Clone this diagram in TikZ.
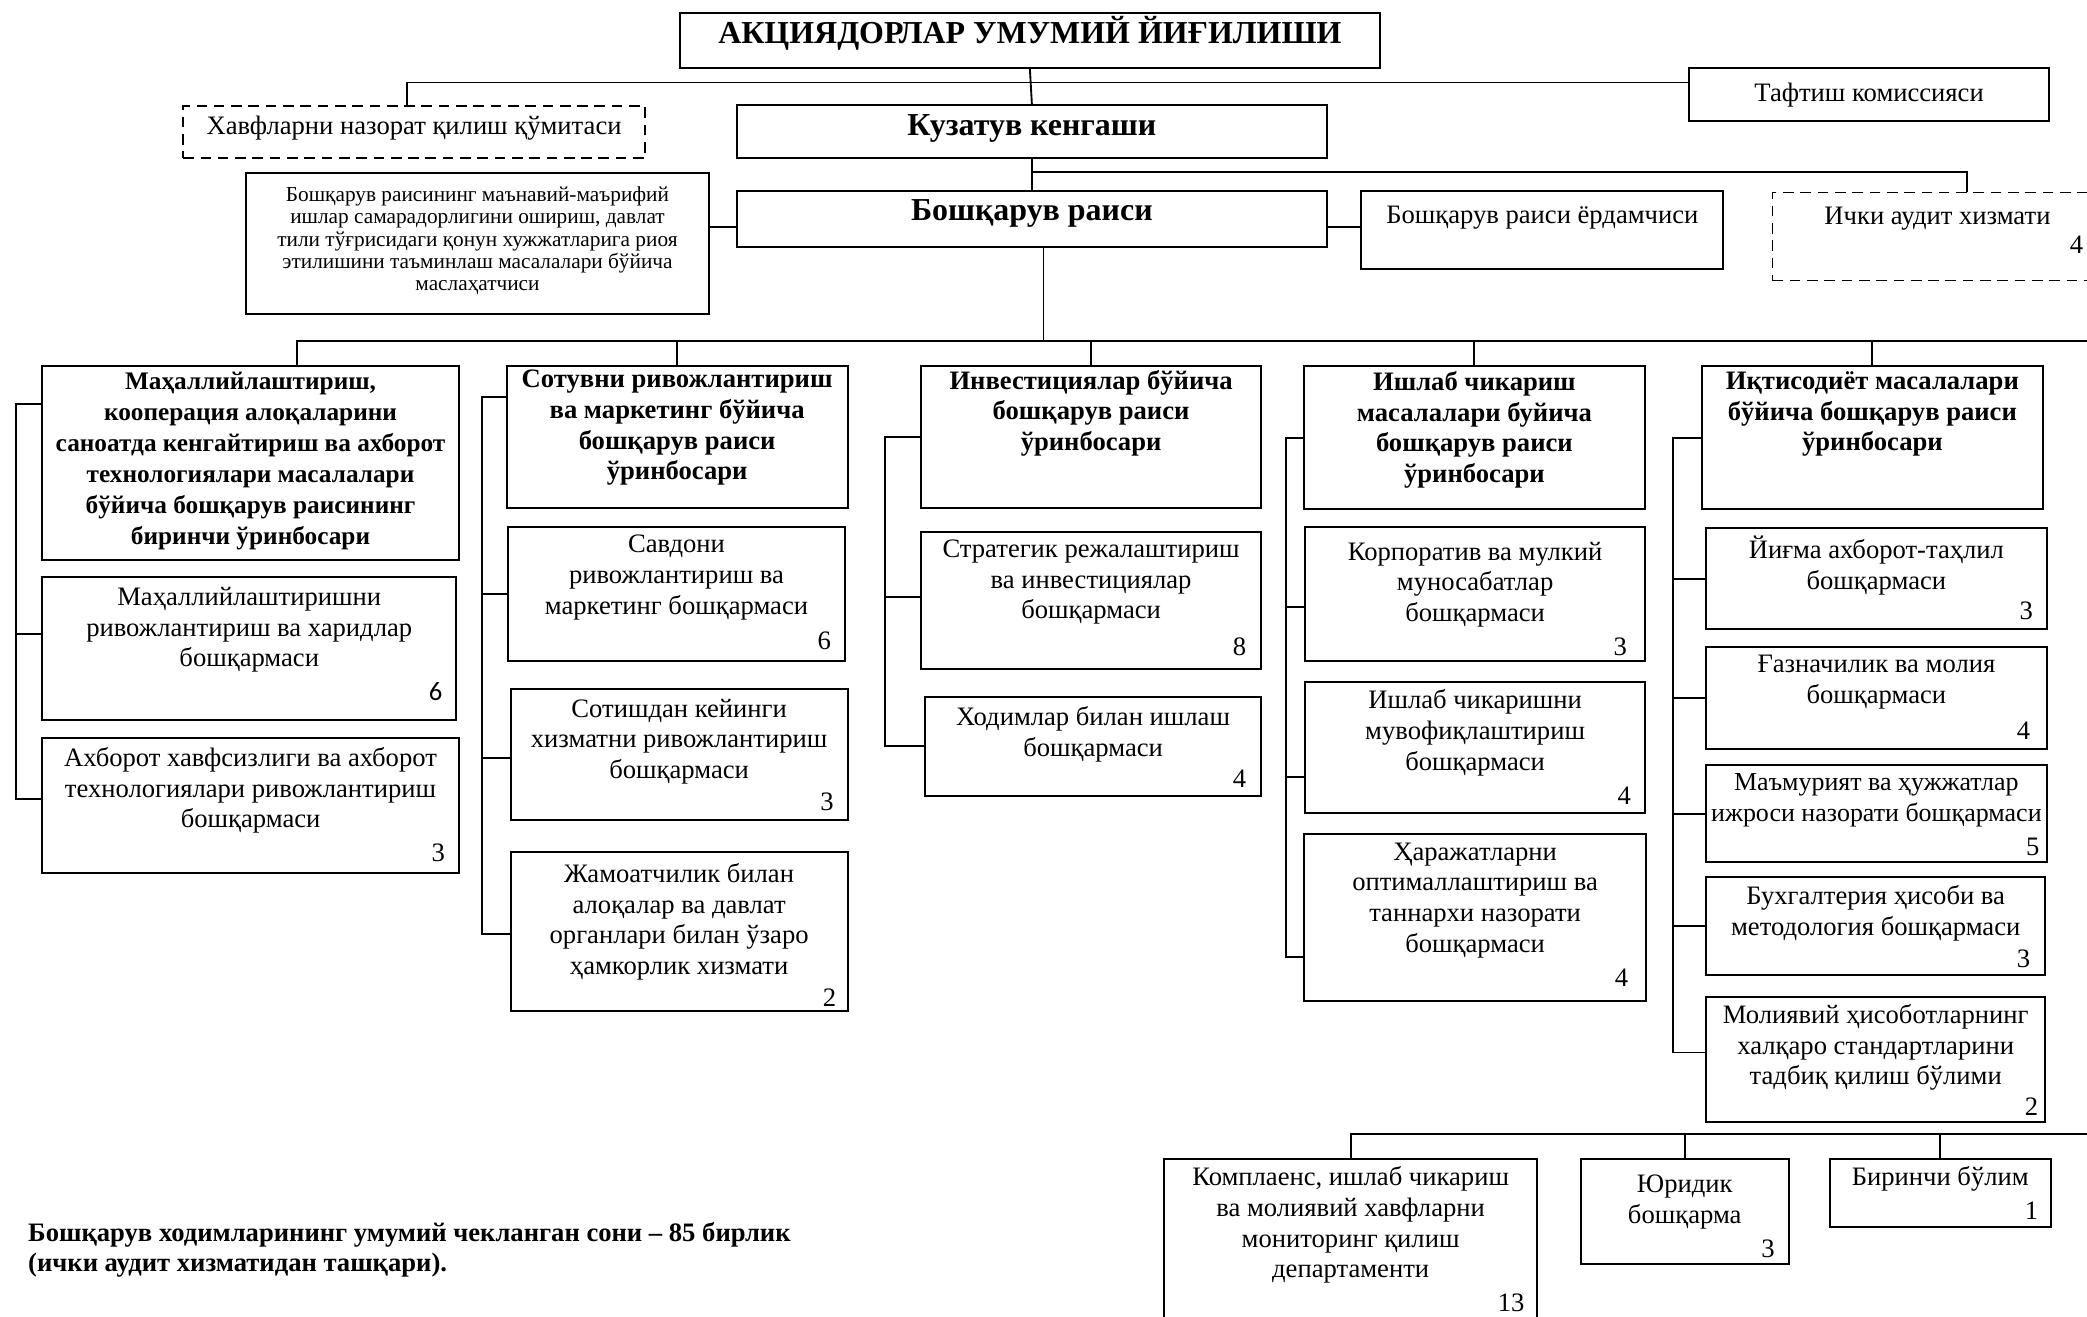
\documentclass[tikz,border=0pt]{standalone}
\usepackage{fontspec}
\setmainfont{Liberation Serif}
\newfontfamily\calibri{Carlito}

\begin{document}
\begin{tikzpicture}[
    x=1pt, y=-1pt,
    unit/.style={draw, line width=1.5pt, inner sep=0pt, anchor=north west},
    dashunit/.style={unit, line width=1.3pt, dash pattern=on 8pt off 5pt},
    link/.style={line width=1.4pt},
    txt/.style={anchor=north, align=center, inner sep=0pt,
      font=\fontsize{20}{23}\selectfont, execute at begin node=\strut},
    head/.style={txt, font=\bfseries\fontsize{20}{23}\selectfont},
    small/.style={txt, font=\fontsize{16}{16.8}\selectfont},
    big/.style={txt, font=\bfseries\fontsize{24}{27}\selectfont},
    num/.style={anchor=south east, inner sep=0pt, font=\fontsize{20}{23}\selectfont},
    note/.style={anchor=north west, align=left, inner sep=0pt,
      font=\bfseries\fontsize{20}{22.5}\selectfont, execute at begin node=\strut}
  ]
  \useasboundingbox (0,0) rectangle (1568,989);
  \clip (0,0) rectangle (1568,989);

  % top level
  \node[unit, minimum width=526pt, minimum height=41pt] (gm) at (510,9) {};
  \node[big] (gm-t) at ([yshift=-3pt]gm.north) {АКЦИЯДОРЛАР УМУМИЙ ЙИҒИЛИШИ};
  \node[unit, minimum width=271pt, minimum height=40pt] (tf) at (1268,50) {};
  \node[txt] (tf-t) at ([yshift=-10pt]tf.north) {Тафтиш комиссияси};
  \node[dashunit, minimum width=347pt, minimum height=39pt] (rc) at (137,79) {};
  \node[txt] (rc-t) at ([yshift=-5.5pt]rc.north) {Хавфларни назорат қилиш қўмитаси};
  \node[unit, minimum width=443pt, minimum height=40pt] (kb) at (553,78) {};
  \node[big] (kb-t) at ([yshift=-4.5pt]kb.north) {Кузатув кенгаши};

  % chairman row
  \node[unit, minimum width=348pt, minimum height=106pt] (adv) at (184,129) {};
  \node[small] (adv-t) at ([yshift=-11pt]adv.north) {Бошқарув раисининг маънавий-маърифий\\ишлар самарадорлигини ошириш, давлат\\тили тўғрисидаги қонун хужжатларига риоя\\этилишини таъминлаш масалалари бўйича\\маслаҳатчиси};
  \node[unit, minimum width=443pt, minimum height=42pt] (raisi) at (553,143) {};
  \node[big] (raisi-t) at ([yshift=-3.5pt]raisi.north) {Бошқарув раиси};
  \node[unit, minimum width=272pt, minimum height=58pt] (asst) at (1022,143) {};
  \node[txt] (asst-t) at ([yshift=-8.5pt]asst.north) {Бошқарув раиси ёрдамчиси};
  \node[dashunit, minimum width=248pt, minimum height=66pt] (ia) at (1331,144) {};
  \node[txt] (ia-t) at ([yshift=-8.5pt]ia.north) {Ички аудит хизмати};
  \node[num] (ia-n) at ([xshift=-15pt,yshift=21pt]ia.south east) {4};

  % deputies
  \node[unit, minimum width=313pt, minimum height=146pt] (d1) at (31,274) {};
  \node[head, font=\bfseries\fontsize{19}{23.2}\selectfont] (d1-t) at ([yshift=-5.5pt]d1.north) {Маҳаллийлаштириш,\\кооперация алоқаларини\\саноатда кенгайтириш ва ахборот\\технологиялари масалалари\\бўйича бошқарув раисининг\\биринчи ўринбосари};
  \node[unit, minimum width=256pt, minimum height=107pt] (d2) at (380,274) {};
  \node[head] (d2-t) at ([yshift=-4pt]d2.north) {Сотувни ривожлантириш\\ва маркетинг бўйича\\бошқарув раиси\\ўринбосари};
  \node[unit, minimum width=256pt, minimum height=107pt] (d3) at (691,274) {};
  \node[head] (d3-t) at ([yshift=-4pt]d3.north) {Инвестициялар бўйича\\бошқарув раиси\\ўринбосари};
  \node[unit, minimum width=256pt, minimum height=108pt] (d4) at (979,274) {};
  \node[head] (d4-t) at ([yshift=-5pt]d4.north) {Ишлаб чикариш\\масалалари буйича\\бошқарув раиси\\ўринбосари};
  \node[unit, minimum width=256pt, minimum height=108pt] (d5) at (1278,274) {};
  \node[head] (d5-t) at ([yshift=-5pt]d5.north) {Иқтисодиёт масалалари\\бўйича бошқарув раиси\\ўринбосари};

  % first deputy units
  \node[unit, minimum width=311pt, minimum height=107pt] (s1a) at (31,433) {};
  \node[txt] (s1a-t) at ([yshift=-8pt]s1a.north) {Маҳаллийлаштиришни\\ривожлантириш ва харидлар\\бошқармаси};
  \node[num, font=\calibri\fontsize{20}{23}\selectfont] (s1a-n) at ([xshift=-11pt,yshift=15pt]s1a.south east) {6};
  \node[unit, minimum width=313pt, minimum height=101pt] (s1b) at (31,554) {};
  \node[txt] (s1b-t) at ([yshift=-7.5pt]s1b.north) {Ахборот хавфсизлиги ва ахборот\\технологиялари ривожлантириш\\бошқармаси};
  \node[num] (s1b-n) at ([xshift=-11pt,yshift=9pt]s1b.south east) {3};

  % sales units
  \node[unit, minimum width=253pt, minimum height=101pt] (s2a) at (381,395) {};
  \node[txt] (s2a-t) at ([yshift=-7pt]s2a.north) {Савдони\\ривожлантириш ва\\маркетинг бошқармаси};
  \node[num] (s2a-n) at ([xshift=-11pt,yshift=9pt]s2a.south east) {6};
  \node[unit, minimum width=253pt, minimum height=98pt] (s2b) at (383,517) {};
  \node[txt] (s2b-t) at ([yshift=-8pt]s2b.north) {Сотишдан кейинги\\хизматни ривожлантириш\\бошқармаси};
  \node[num] (s2b-n) at ([xshift=-11pt,yshift=7pt]s2b.south east) {3};
  \node[unit, minimum width=253pt, minimum height=120pt] (s2c) at (383,639) {};
  \node[txt] (s2c-t) at ([yshift=-9.5pt]s2c.north) {Жамоатчилик билан\\алоқалар ва давлат\\органлари билан ўзаро\\ҳамкорлик хизмати};
  \node[num] (s2c-n) at ([xshift=-9pt,yshift=4pt]s2c.south east) {2};

  % investment units
  \node[unit, minimum width=256pt, minimum height=103pt] (s3a) at (691,399) {};
  \node[txt] (s3a-t) at ([yshift=-6.5pt]s3a.north) {Стратегик режалаштириш\\ва инвестициялар\\бошқармаси};
  \node[num] (s3a-n) at ([xshift=-12pt,yshift=11pt]s3a.south east) {8};
  \node[unit, minimum width=253pt, minimum height=74pt] (s3b) at (694,523) {};
  \node[txt] (s3b-t) at ([yshift=-7.5pt]s3b.north) {Ходимлар билан ишлаш\\бошқармаси};
  \node[num] (s3b-n) at ([xshift=-12pt,yshift=7pt]s3b.south east) {4};

  % production units
  \node[unit, minimum width=255pt, minimum height=101pt] (s4a) at (980,395) {};
  \node[txt] (s4a-t) at ([yshift=-12pt]s4a.north) {Корпоратив ва мулкий\\муносабатлар\\бошқармаси};
  \node[num] (s4a-n) at ([xshift=-14pt,yshift=5pt]s4a.south east) {3};
  \node[unit, minimum width=255pt, minimum height=98pt] (s4b) at (980,512) {};
  \node[txt] (s4b-t) at ([yshift=-6pt]s4b.north) {Ишлаб чикаришни\\мувофиқлаштириш\\бошқармаси};
  \node[num] (s4b-n) at ([xshift=-11pt,yshift=7pt]s4b.south east) {4};
  \node[unit, minimum width=257pt, minimum height=125pt] (s4c) at (979,626) {};
  \node[txt] (s4c-t) at ([yshift=-7pt]s4c.north) {Ҳаражатларни\\оптималлаштириш ва\\таннархи назорати\\бошқармаси};
  \node[num] (s4c-n) at ([xshift=-14pt,yshift=11pt]s4c.south east) {4};

  % economy units
  \node[unit, minimum width=256pt, minimum height=76pt] (s5a) at (1281,396) {};
  \node[txt] (s5a-t) at ([yshift=-6.5pt]s5a.north) {Йиғма ахборот-таҳлил\\бошқармаси};
  \node[num] (s5a-n) at ([xshift=-11pt,yshift=8pt]s5a.south east) {3};
  \node[unit, minimum width=256pt, minimum height=77pt] (s5b) at (1281,485) {};
  \node[txt] (s5b-t) at ([yshift=-7pt]s5b.north) {Ғазначилик ва молия\\бошқармаси};
  \node[num] (s5b-n) at ([xshift=-13pt,yshift=8pt]s5b.south east) {4};
  \node[unit, minimum width=256pt, minimum height=73pt] (s5c) at (1281,574) {};
  \node[txt, font=\fontsize{19.5}{23}\selectfont] (s5c-t) at ([yshift=-7pt]s5c.north) {Маъмурият ва ҳужжатлар\\ижроси назорати бошқармаси};
  \node[num] (s5c-n) at ([xshift=-6pt,yshift=5pt]s5c.south east) {5};
  \node[unit, minimum width=255pt, minimum height=74pt] (s5d) at (1281,658) {};
  \node[txt] (s5d-t) at ([yshift=-7pt]s5d.north) {Бухгалтерия ҳисоби ва\\методология бошқармаси};
  \node[num] (s5d-n) at ([xshift=-12pt,yshift=6pt]s5d.south east) {3};
  \node[unit, minimum width=255pt, minimum height=94pt] (s5e) at (1281,748) {};
  \node[txt] (s5e-t) at ([yshift=-6.5pt]s5e.north) {Молиявий ҳисоботларнинг\\халқаро стандартларини\\тадбиқ қилиш бўлими};
  \node[num] (s5e-n) at ([xshift=-6pt,yshift=5pt]s5e.south east) {2};

  % lower row
  \node[unit, minimum width=280pt, minimum height=125pt] (bb1) at (874,870) {};
  \node[txt] (bb1-t) at ([yshift=-6.5pt]bb1.north) {Комплаенс, ишлаб чикариш\\ва молиявий хавфларни\\мониторинг қилиш\\департаменти};
  \node[num] (bb1-n) at ([xshift=-10pt,yshift=11pt]bb1.south east) {13};
  \node[unit, minimum width=156pt, minimum height=79pt] (bb2) at (1187,870) {};
  \node[txt] (bb2-t) at ([yshift=-12.5pt]bb2.north) {Юридик\\бошқарма};
  \node[num] (bb2-n) at ([xshift=-11pt,yshift=5pt]bb2.south east) {3};
  \node[unit, minimum width=166pt, minimum height=51pt] (bb3) at (1374,870) {};
  \node[txt] (bb3-t) at ([yshift=-4.5pt]bb3.north) {Биринчи бўлим};
  \node[num] (bb3-n) at ([xshift=-10pt,yshift=6pt]bb3.south east) {1};

  \node[note] (total) at (21,918) {Бошқарув ходимларининг умумий чекланган сони – 85 бирлик\\(ички аудит хизматидан ташқари).};

  % connectors
  \coordinate (topbus) at (306,62);
  \coordinate (auditbus) at (1478,129);
  \coordinate (hub) at (784,256);
  \coordinate (busl) at (223,256);
  \coordinate (busr) at (1600,256);
  \coordinate (lowbus) at (1600,852);
  \coordinate (rl) at ([yshift=-6pt]raisi.west);
  \coordinate (rr) at ([yshift=-6pt]raisi.east);

  \draw[link] (rc.north -| topbus) -- (topbus) -- (topbus -| tf.west);
  \draw[link] (gm.south) -- (kb.north);
  \draw[link] (kb.south) -- (raisi.north);
  \draw[link] (kb.south |- auditbus) -- (auditbus) -- (auditbus |- ia.north);
  \draw[link] (rl) -- (rl -| adv.east);
  \draw[link] (rr) -- (rr -| asst.west);

  \draw[link] (raisi.south -| hub) -- (hub);
  \draw[link] (busl |- d1.north) -- (busl) -- (busr);
  \foreach \d in {d2,d3,d4,d5}
    \draw[link] (\d.north) -- (\d.north |- hub);

  \draw[link] ([yshift=44pt]d1.west) -- ++(-19,0) |- ([yshift=5pt]s1b.west);
  \draw[link] ([yshift=11pt]s1a.west) -- ++(-19,0);

  \draw[link] ([yshift=30pt]d2.west) -- ++(-18,0) |- ([yshift=-2pt]s2c.west);
  \draw[link] (s2a.west) -- ++(-19,0);
  \draw[link] ([yshift=-3pt]s2b.west) -- ++(-21,0);

  \draw[link] (d3.west) -- ++(-26,0) |- (s3b.west);
  \draw[link] ([yshift=3pt]s3a.west) -- ++(-26,0);

  \draw[link] (d4.west) -- ++(-13,0) |- ([yshift=-30pt]s4c.west);
  \draw[link] ([yshift=-10pt]s4a.west) -- ++(-14,0);
  \draw[link] ([yshift=-22pt]s4b.west) -- ++(-14,0);

  \draw[link] (d5.west) -- ++(-21,0) |- ([yshift=5pt]s5e.west);
  \foreach \s in {s5a,s5b,s5c,s5d}
    \draw[link] (\s.west) -- ++(-24,0);

  \draw[link] (bb1.north) |- (lowbus);
  \draw[link] (bb2.north) -- (bb2.north |- lowbus);
  \draw[link] (bb3.north) -- (bb3.north |- lowbus);
\end{tikzpicture}
\end{document}
